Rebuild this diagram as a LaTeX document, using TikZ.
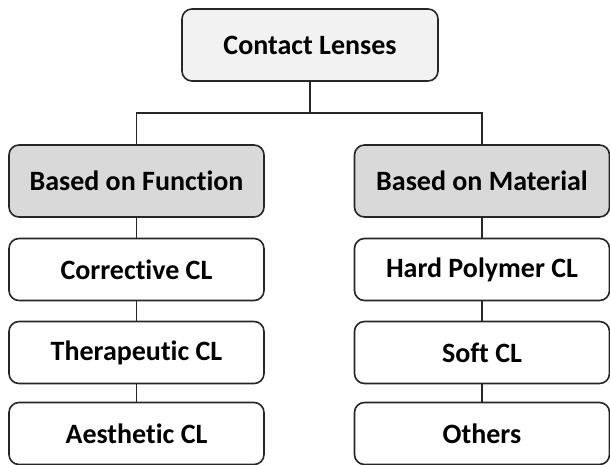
\documentclass[tikz,border=0pt]{standalone}
\usepackage{fontspec}
\setmainfont[Ligatures=NoCommon]{Carlito}
\begin{document}
\begin{tikzpicture}[x=1pt,y=-1pt,
  box/.style={draw=black!85, line width=1.6pt, rounded corners=10pt, align=center,
    font=\fontsize{28}{33}\selectfont\bfseries, inner sep=0pt},
  toplevel/.style={box, fill=black!5, minimum width=256pt, minimum height=72pt},
  catbox/.style={box, fill=black!15, minimum width=255pt, minimum height=72pt},
  leafbox/.style={box, fill=white, minimum width=255pt, minimum height=62pt},
  link/.style={draw=black!85, line width=1.6pt}]
\useasboundingbox (0,0) rectangle (610,465);
\node[toplevel] (top) at (310,45) {Contact Lenses};
\node[catbox] (fun) at (136.5,181) {Based on Function};
\node[catbox] (mat) at (482,181) {Based on Material};
\node[leafbox] (cor) at (136.5,269.5) {Corrective CL};
\node[leafbox] (the) at (136.5,352.5) {Therapeutic CL};
\node[leafbox] (aes) at (136.5,433.5) {Aesthetic CL};
\node[leafbox] (hard) at (482,269.5) {Hard Polymer CL};
\node[leafbox] (soft) at (482,352.5) {Soft CL};
\node[leafbox] (oth) at (482,433.5) {Others};
\coordinate (j) at (310,113);
\draw[link] (top.south) -- (j);
\draw[link] (fun.north) |- (j) -| (mat.north);
\draw[link] (fun) -- (cor);
\draw[link] (cor) -- (the);
\draw[link] (the) -- (aes);
\draw[link] (mat) -- (hard);
\draw[link] (hard) -- (soft);
\draw[link] (soft) -- (oth);
\end{tikzpicture}
\end{document}
